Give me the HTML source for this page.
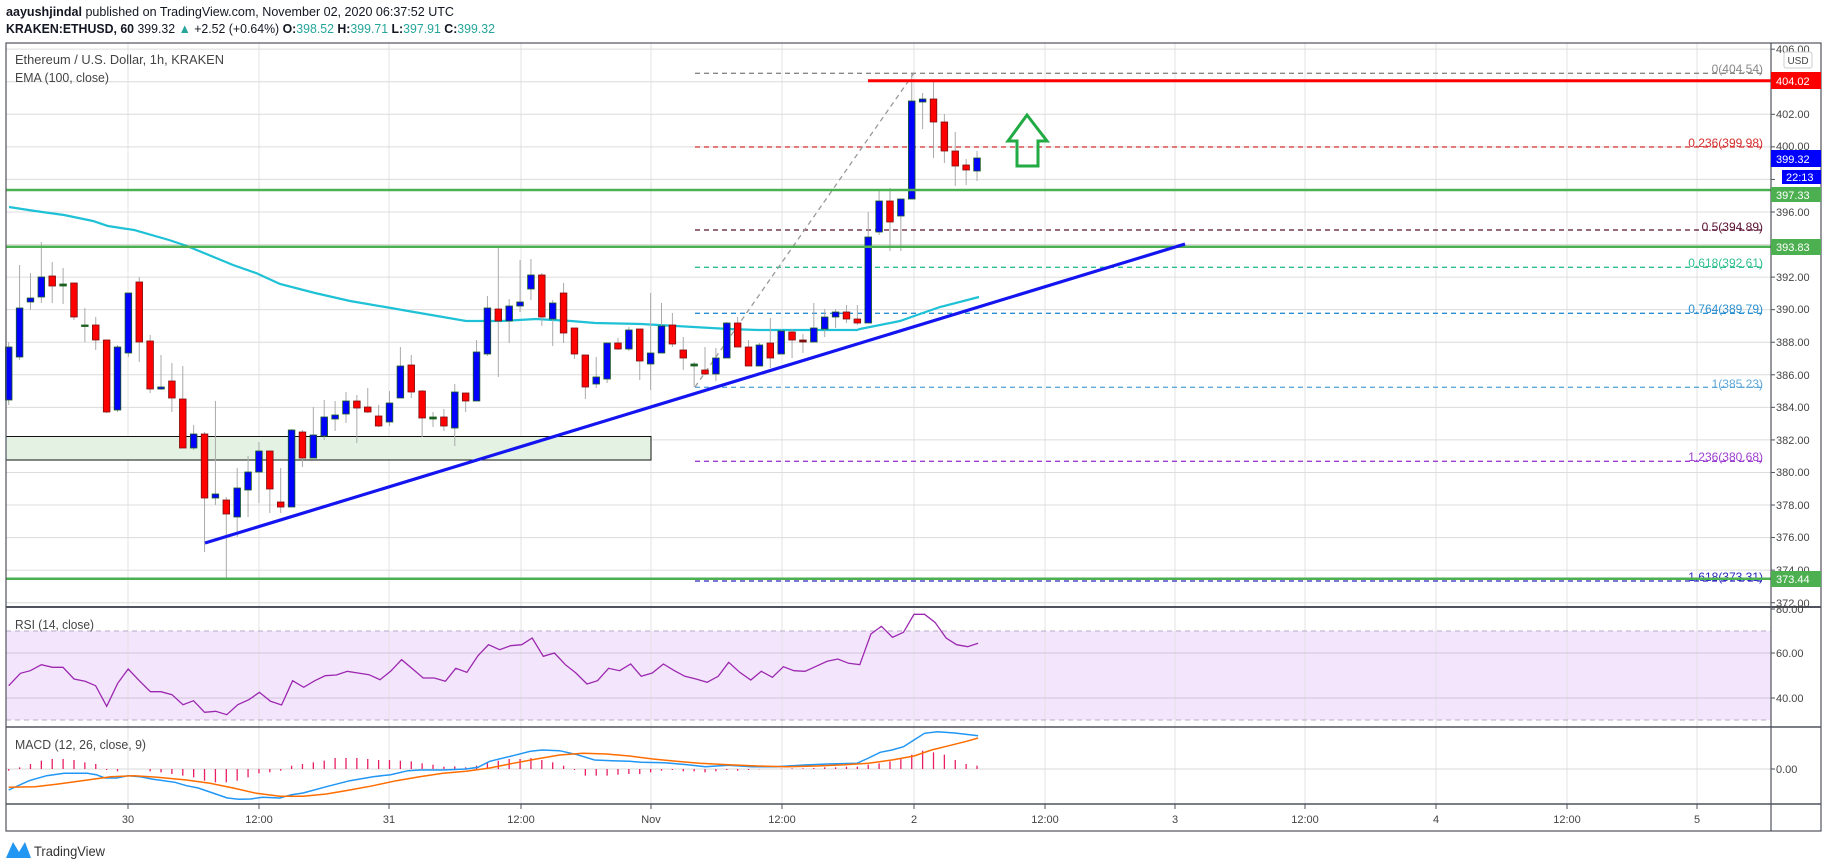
<!DOCTYPE html>
<html><head><meta charset="utf-8"><style>
html,body{margin:0;padding:0;background:#fff;width:1828px;height:868px;overflow:hidden}
svg{display:block;font-family:"Liberation Sans",sans-serif}
</style></head><body>
<svg id="s" width="1828" height="868" viewBox="0 0 1828 868" xmlns="http://www.w3.org/2000/svg">
<rect width="1828" height="868" fill="#fff"/>
<!-- header -->
<text x="6" y="16" font-size="13" fill="#131722" textLength="448" lengthAdjust="spacingAndGlyphs"><tspan font-weight="bold">aayushjindal</tspan> published on TradingView.com, November 02, 2020 06:37:52 UTC</text>
<text x="6" y="33" font-size="13" fill="#131722" textLength="489" lengthAdjust="spacingAndGlyphs"><tspan font-weight="bold">KRAKEN:ETHUSD, 60</tspan> 399.32 <tspan fill="#26a69a">▲</tspan> +2.52 (+0.64%) <tspan font-weight="bold">O:</tspan><tspan fill="#26a69a">398.52</tspan> <tspan font-weight="bold">H:</tspan><tspan fill="#26a69a">399.71</tspan> <tspan font-weight="bold">L:</tspan><tspan fill="#26a69a">397.91</tspan> <tspan font-weight="bold">C:</tspan><tspan fill="#26a69a">399.32</tspan></text>
<!-- rsi band -->
<rect x="6" y="631" width="1765" height="89" fill="#f3e6fc"/>
<g id="grid" stroke="#dcdcdc" stroke-width="1"></g>
<!-- rsi lines -->
<line x1="6" y1="631" x2="1771" y2="631" stroke="#b9a9c4" stroke-dasharray="5,4"/>
<line x1="6" y1="720" x2="1771" y2="720" stroke="#b9a9c4" stroke-dasharray="5,4"/>
<line x1="6" y1="653" x2="1771" y2="653" stroke="#d0c4da"/>
<line x1="6" y1="698" x2="1771" y2="698" stroke="#d0c4da"/>
<line x1="6" y1="769" x2="1771" y2="769" stroke="#d9d9d9"/>
<!-- green box -->
<rect x="6" y="436.5" width="645" height="23.5" fill="#e3f2e3" stroke="#111" stroke-width="1"/>
<!-- fib lines -->
<g stroke-width="1.3" stroke-dasharray="5,4">
<line x1="695" y1="73.3" x2="1765" y2="73.3" stroke="#888"/>
<line x1="695" y1="147" x2="1765" y2="147" stroke="#d32f2f"/>
<line x1="695" y1="230" x2="1765" y2="230" stroke="#5a1030"/>
<line x1="695" y1="267.3" x2="1765" y2="267.3" stroke="#2fbf8f"/>
<line x1="695" y1="313.3" x2="1765" y2="313.3" stroke="#2a8fd0"/>
<line x1="695" y1="387.3" x2="1765" y2="387.3" stroke="#5fa8d8"/>
<line x1="695" y1="461.3" x2="1765" y2="461.3" stroke="#9c3fd0"/>
<line x1="695" y1="581" x2="1765" y2="581" stroke="#2828c0"/>
<line x1="695" y1="387" x2="914" y2="73" stroke="#999"/>
</g>
<g font-size="12" text-anchor="end">
<text x="1763" y="73" fill="#888">0(404.54)</text>
<text x="1763" y="147" fill="#d32f2f">0.236(399.98)</text>
<text x="1763" y="231" fill="#5a1030">0.5(394.89)</text>
<text x="1763" y="267" fill="#2fbf8f">0.618(392.61)</text>
<text x="1763" y="313" fill="#2a8fd0">0.764(389.79)</text>
<text x="1763" y="388" fill="#5fa8d8">1(385.23)</text>
<text x="1763" y="461" fill="#9c3fd0">1.236(380.68)</text>
<text x="1763" y="581" fill="#2828c0">1.618(373.31)</text>
</g>
<polyline id="ema" fill="none" stroke="#1fc1d6" stroke-width="2.2" points="9,207 35,211 64,215 93,221 108,226 134,230 169,240 187,246 233,265 256,273 280,284 315,293 350,301 391,308 408,311 443,317 466,321 501,321 536,319 571,321 595,323 641,324 676,326 729,329 758,330 816,330 857,330 860,329 900,321 917,315 940,307 979,297"/>
<g id="candles"></g>
<!-- horizontal lines -->
<line x1="868" y1="80.7" x2="1771" y2="80.7" stroke="#ff0000" stroke-width="3"/>
<line x1="6" y1="190" x2="1771" y2="190" stroke="#4caf50" stroke-width="2.5"/>
<line x1="6" y1="246.7" x2="1771" y2="246.7" stroke="#4caf50" stroke-width="2.5"/>
<line x1="6" y1="578.7" x2="1771" y2="578.7" stroke="#4caf50" stroke-width="2.5"/>
<!-- trend line -->
<line x1="205" y1="543" x2="1185" y2="244" stroke="#1414f0" stroke-width="3.2"/>
<!-- arrow -->
<polygon points="1027,115 1047,141 1038,141 1038,166 1017,166 1017,141 1008,141" fill="none" stroke="#22aa44" stroke-width="3" stroke-linejoin="miter"/>
<!-- legends -->
<text x="15" y="64" font-size="13" fill="#444" textLength="209" lengthAdjust="spacingAndGlyphs">Ethereum / U.S. Dollar, 1h, KRAKEN</text>
<text x="15" y="82" font-size="13" fill="#444" textLength="94" lengthAdjust="spacingAndGlyphs">EMA (100, close)</text>
<text x="15" y="629" font-size="13" fill="#444" textLength="79" lengthAdjust="spacingAndGlyphs">RSI (14, close)</text>
<text x="15" y="749" font-size="13" fill="#444" textLength="131" lengthAdjust="spacingAndGlyphs">MACD (12, 26, close, 9)</text>
<polyline id="rsi" fill="none" stroke="#9c27b0" stroke-width="1.3"/>
<g id="hist" stroke="#e91e63" stroke-width="1.3"></g>
<polyline id="macd" fill="none" stroke="#2196f3" stroke-width="1.5"/>
<polyline id="sig" fill="none" stroke="#ff6d00" stroke-width="1.5"/>
<!-- frame -->
<rect x="6" y="43" width="1815" height="788" fill="none" stroke="#50535e" stroke-width="1.2"/>
<line x1="6" y1="607" x2="1821" y2="607" stroke="#50535e" stroke-width="2"/>
<line x1="6" y1="727" x2="1821" y2="727" stroke="#50535e" stroke-width="1.5"/>
<line x1="6" y1="804" x2="1821" y2="804" stroke="#50535e" stroke-width="1.5"/>
<line x1="1771" y1="43" x2="1771" y2="831" stroke="#50535e" stroke-width="1.2"/>
<g id="ticks" stroke="#50535e"></g>
<!-- axis labels -->
<g font-size="11" fill="#444">
<text x="1776" y="53">406.00</text>
<text x="1776" y="118">402.00</text>
<text x="1776" y="150">400.00</text>
<text x="1776" y="216">396.00</text>
<text x="1776" y="281">392.00</text>
<text x="1776" y="313">390.00</text>
<text x="1776" y="346">388.00</text>
<text x="1776" y="379">386.00</text>
<text x="1776" y="411">384.00</text>
<text x="1776" y="444">382.00</text>
<text x="1776" y="476">380.00</text>
<text x="1776" y="509">378.00</text>
<text x="1776" y="541">376.00</text>
<text x="1776" y="574">374.00</text>
<text x="1776" y="607">372.00</text>
<text x="1776" y="613">80.00</text>
<text x="1776" y="657">60.00</text>
<text x="1776" y="702">40.00</text>
<text x="1776" y="773">0.00</text>
</g>
<rect x="1784" y="52" width="28" height="16" rx="2" fill="#fff" stroke="#ccc"/>
<text x="1798" y="64" font-size="10" fill="#444" text-anchor="middle">USD</text>
<rect x="1771" y="72" width="50" height="17" fill="#ff0000"/>
<text x="1776" y="85" font-size="11" fill="#fff">404.02</text>
<rect x="1771" y="150" width="50" height="17" fill="#0000ff"/>
<text x="1776" y="163" font-size="11" fill="#fff">399.32</text>
<rect x="1782" y="170" width="39" height="14" fill="#0000ff"/>
<text x="1786" y="181" font-size="11" fill="#fff">22:13</text>
<rect x="1771" y="187" width="50" height="15" fill="#4caf50"/>
<text x="1776" y="199" font-size="11" fill="#fff">397.33</text>
<rect x="1771" y="239" width="50" height="16" fill="#4caf50"/>
<text x="1776" y="251" font-size="11" fill="#fff">393.83</text>
<rect x="1771" y="571" width="50" height="16" fill="#4caf50"/>
<text x="1776" y="583" font-size="11" fill="#fff">373.44</text>
<g font-size="11" fill="#444" text-anchor="middle">
<text x="128" y="823">30</text><text x="259" y="823">12:00</text><text x="389" y="823">31</text><text x="521" y="823">12:00</text>
<text x="651" y="823">Nov</text><text x="782" y="823">12:00</text><text x="914" y="823">2</text><text x="1045" y="823">12:00</text>
<text x="1175" y="823">3</text><text x="1305" y="823">12:00</text><text x="1436" y="823">4</text><text x="1567" y="823">12:00</text><text x="1697" y="823">5</text>
</g>
<!-- logo -->
<path d="M6,858 L13,842 L19,852 L25,842 L31,858 Z" fill="#2196f3"/>
<text x="34" y="856" font-size="14" fill="#333" textLength="71" lengthAdjust="spacingAndGlyphs">TradingView</text>
</svg>
<script>
var NS='http://www.w3.org/2000/svg';
function el(p,t,a){var e=document.createElementNS(NS,t);for(var k in a)e.setAttribute(k,a[k]);document.getElementById(p).appendChild(e);return e;}
// grid
var gx=[128,259,389,521,651,782,914,1045,1175,1305,1436,1567,1697];
gx.forEach(function(x){el('grid','line',{x1:x,y1:43,x2:x,y2:804,stroke:'#e3e3e3'});el('ticks','line',{x1:x,y1:804,x2:x,y2:809});});
for(var p=406;p>=372;p-=2){var y=114.3+(402-p)*16.28;el('grid','line',{x1:6,y1:y,x2:1771,y2:y});el('ticks','line',{x1:1771,y1:y,x2:1775,y2:y});}
[609,653,698,769].forEach(function(y){el('ticks','line',{x1:1771,y1:y,x2:1775,y2:y});});
var C=[
['B',347,400,342,405],['B',308,357,265,360],['B',298,302,273,310],['B',277,297,242,303],['R',276,286,262,303],['D',284,286,268,304],['R',283,317,283,320],['D',325,326,308,342],['R',325,340,317,350],['R',340,412,340,413],
['B',347,410,345,412],['B',293,353,293,357],['R',282,342,277,362],['R',341,389,335,393],['B',387,389,355,390],['R',381,398,363,412],['R',399,448,366,448],['B',434,448,425,450],['R',434,498,432,552],['B',494,498,401,505],
['R',500,514,497,578],['B',488,517,468,537],['B',472,490,456,517],['B',451,472,442,503],['R',451,489,451,513],['R',502,507,468,513],['B',430,507,429,507],['R',432,458,430,467],['B',435,458,407,458],['B',417,436,400,440],
['B',415,419,401,431],['B',401,414,392,423],['R',401,408,395,443],['R',407,412,388,413],['R',416,426,405,427],['B',403,422,391,426],['B',366,398,347,398],['R',365,392,355,398],['R',391,418,390,437],['D',417,419,412,427],
['R',417,426,409,431],['B',392,428,384,446],['R',393,401,393,412],['B',352,401,340,401],['B',308,354,296,356],['R',309,321,247,377],['B',306,321,299,343],['B',302,306,260,312],['B',275,289,259,300],['R',275,317,273,326],
['B',303,319,300,346],['R',293,333,283,343],['R',328,354,328,359],['R',355,387,355,399],['B',377,384,357,388],['B',343,379,343,383],['R',343,349,338,350],['B',330,349,327,351],['R',329,361,329,380],['B',353,364,293,390],
['B',326,353,303,353],['R',325,344,313,347],['R',350,358,337,370],['D',364,366,362,387],['R',370,374,347,375],['B',358,374,348,381],['B',323,358,322,358],['R',323,347,317,347],['R',347,366,340,366],['B',345,366,343,366],
['R',343,358,318,368],['B',331,354,329,354],['R',332,340,329,358],['E',340,342,334,353],['B',328,342,303,342],['B',317,329,309,337],['B',312,317,309,328],['R',312,319,305,323],['R',319,323,305,325],['B',237,323,212,323],
['B',201,232,191,235],['R',201,222,188,251],['B',199,216,199,251],['B',101,199,74,199],['B',99,102,93,129],['R',99,122,82,158],['R',122,151,114,163],['R',151,166,132,186],['R',165,170,159,185],['B',158,171,151,181]];
C.forEach(function(c,i){var x=8.7+i*10.88;
el('candles','line',{x1:x,y1:c[3],x2:x,y2:c[4],stroke:'#aaa','stroke-width':1});
var f={B:'#0000ff',R:'#ff0000',D:'#1b5e20',E:'#7a1010'}[c[0]],s={B:'#1b5e20',R:'#7a1010',D:'#1b5e20',E:'#7a1010'}[c[0]];
var h=Math.max(c[2]-c[1],1.5);
el('candles','rect',{x:x-3.3,y:c[1],width:6.6,height:h,fill:f,stroke:s,'stroke-width':0.8});});
// RSI
var R=[[15,755],[35,718],[52,710],[71,692],[90,700],[108,700],[127,735],[146,742],[164,755],[183,817],[202,748],[220,705],[239,740],[258,773],[276,773],[295,782],[314,812],[332,800],[351,835],[370,832],[389,842],[408,812],[427,797],[445,775],[464,802],[483,813],[502,740],[521,760],[540,740],[558,725],[577,723],[596,712],[614,717],[633,722],[652,737],[670,712],[689,677],[708,705],[726,732],[745,732],[764,742],[782,703],[801,715],[820,665],[838,632],[857,647],[876,635],[895,632],[913,612],[932,667],[951,657],[970,692],[988,717],[1007,750],[1025,740],[1044,703],[1063,710],[1082,690],[1100,727],[1119,717],[1138,690],[1157,710],[1175,727],[1194,735],[1213,745],[1232,727],[1250,685],[1269,715],[1288,738],[1306,712],[1325,730],[1344,698],[1362,710],[1381,712],[1400,697],[1419,682],[1437,675],[1456,688],[1475,692],[1494,600],[1512,577],[1531,610],[1550,595],[1568,541]];
var pts=R.map(function(p){return (p[0]/1.7155).toFixed(1)+','+(434+p[1]/3).toFixed(1);});
[[18,541],[36,565],[55,612],[73,632],[92,638],[110,628]].forEach(function(p){pts.push((914+p[0]/1.7155).toFixed(1)+','+(434+p[1]/3).toFixed(1));});
document.getElementById('rsi').setAttribute('points',pts.join(' '));
function conv(a,b){var o=a.map(function(p){return (p[0]/1.7155).toFixed(1)+','+(434+p[1]/3).toFixed(1);});b.forEach(function(p){o.push((914+p[0]/1.7155).toFixed(1)+','+(434+p[1]/3).toFixed(1));});return o.join(' ');}
document.getElementById('macd').setAttribute('points',conv([[15,1068],[50,1040],[80,1025],[110,1018],[150,1018],[165,1022],[180,1032],[200,1032],[220,1025],[240,1028],[260,1035],[300,1045],[320,1055],[340,1062],[370,1080],[390,1092],[410,1096],[430,1095],[450,1090],[480,1092],[500,1082],[520,1077],[560,1058],[600,1040],[640,1028],[670,1022],[700,1010],[720,1008],[760,1008],[800,1005],[820,1000],[840,982],[880,965],[910,952],[930,948],[960,950],[990,962],[1020,978],[1050,980],[1080,982],[1100,985],[1140,986],[1180,992],[1210,998],[1250,994],[1290,998],[1330,998],[1380,993],[1420,990],[1470,988],[1490,972],[1510,955],[1530,948],[1550,938],[1568,918]],[[18,898],[40,893],[70,897],[110,905]]));
document.getElementById('sig').setAttribute('points',conv([[15,1060],[60,1058],[100,1050],[150,1038],[190,1028],[230,1025],[270,1030],[320,1038],[360,1048],[400,1062],[440,1078],[480,1087],[520,1087],[560,1080],[600,1068],[640,1055],[680,1040],[720,1028],[760,1018],[800,1012],[840,1002],[880,988],[920,975],[960,963],[1000,958],[1040,960],[1080,966],[1120,975],[1160,982],[1200,988],[1250,992],[1300,996],[1350,998],[1400,996],[1450,992],[1490,988],[1530,978],[1568,966]],[[30,948],[60,935],[90,922],[110,912]]));
var H=[1010,1000,990,980,975,975,978,985,990,1008,1012,1005,1005,1012,1015,1020,1025,1030,1040,1045,1045,1040,1030,1018,1015,1010,995,990,985,980,972,972,972,975,978,978,980,982,988,992,998,997,1000,995,985,980,975,975,972,978,985,995,1008,1025,1025,1025,1022,1020,1020,1015,1010,1008,1012,1012,1015,1012,1008,1010,1008,1006,1005,1004,1003,1003,1002,1000,1000,998,998,992,988,982,975,962,950,955,962,978,990,995];
H.forEach(function(v,i){var x=8.7+i*10.88;el('hist','line',{x1:x,y1:769,x2:x,y2:434+v/3});});
</script>
</body></html>
